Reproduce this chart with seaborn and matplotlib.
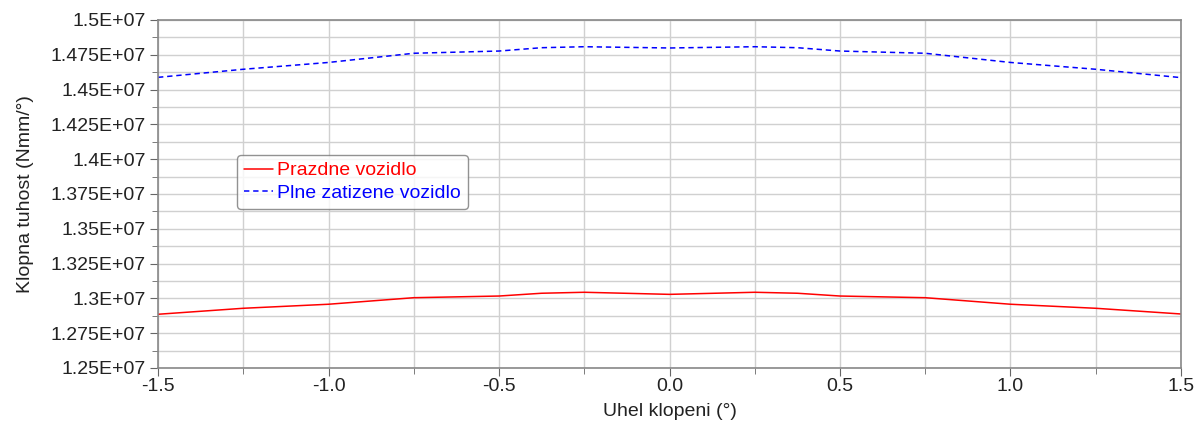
import matplotlib
matplotlib.use("Agg")
import matplotlib.pyplot as plt
from matplotlib.ticker import MultipleLocator, FuncFormatter
import seaborn as sns
import pandas as pd

# roll angle (deg) and roll stiffness (Nmm/deg)
angle = [-1.5, -1.25, -1.0, -0.75, -0.5, -0.375, -0.25, 0.0,
         0.25, 0.375, 0.5, 0.75, 1.0, 1.25, 1.5]
empty = [1.2886e7, 1.2929e7, 1.2958e7, 1.3005e7, 1.3017e7, 1.3037e7, 1.3044e7, 1.3029e7,
         1.3044e7, 1.3037e7, 1.3017e7, 1.3005e7, 1.2958e7, 1.2929e7, 1.2888e7]
loaded = [1.4588e7, 1.4646e7, 1.4695e7, 1.4761e7, 1.4777e7, 1.4801e7, 1.4808e7, 1.4799e7,
          1.4808e7, 1.4801e7, 1.4777e7, 1.4761e7, 1.4695e7, 1.4646e7, 1.4586e7]
labels = ["Prazdne vozidlo", "Plne zatizene vozidlo"]
colors = ["#ff0000", "#0000ff"]

df = pd.DataFrame({
    "angle": angle * 2,
    "value": empty + loaded,
    "series": [labels[0]] * len(angle) + [labels[1]] * len(angle),
})

sns.set_style("white")
plt.rcParams["font.family"] = ["Liberation Sans", "DejaVu Sans"]
fs = 14

fig = plt.figure(figsize=(11.98, 4.21), dpi=100)
ax = fig.add_axes([0.1319, 0.1259, 0.8539, 0.8266])

sns.lineplot(data=df, x="angle", y="value", hue="series",
             palette=colors, linewidth=1.1, ax=ax, legend=False)
ax.lines[0].set_linestyle("-")
ax.lines[1].set_dashes((3.5, 2.5))

ax.set_xlim(-1.5, 1.5)
ax.set_ylim(1.25e7, 1.5e7)
ax.xaxis.set_major_locator(MultipleLocator(0.5))
ax.xaxis.set_minor_locator(MultipleLocator(0.25))
ax.yaxis.set_major_locator(MultipleLocator(250000))
ax.yaxis.set_minor_locator(MultipleLocator(125000))
ax.xaxis.set_major_formatter(FuncFormatter(lambda v, p: f"{v:.1f}"))


def sci(v, p):
    s = f"{v / 1e7:.3f}".rstrip("0").rstrip(".")
    return f"{s}E+07"


ax.yaxis.set_major_formatter(FuncFormatter(sci))
ax.grid(True, which="both", color="#d0d0d0", linewidth=1)
ax.set_axisbelow(True)
for s in ax.spines.values():
    s.set_color("#888888")
    s.set_linewidth(1.2)
ax.tick_params(which="both", direction="out", color="#666666",
               left=True, bottom=True, labelsize=fs, colors="#222222")
ax.tick_params(which="major", length=6)
ax.tick_params(which="minor", length=4)
ax.tick_params(axis="x", pad=1)
ax.tick_params(axis="y", pad=3)
ax.set_xlabel("Uhel klopeni (°)", fontsize=fs, color="#222222", labelpad=6)
ax.set_ylabel("Klopna tuhost (Nmm/°)", fontsize=fs, color="#222222", labelpad=12)

leg = ax.legend(ax.lines[:2], labels, loc="upper left",
                bbox_to_anchor=(0.068, 0.64), fontsize=fs, frameon=True,
                fancybox=True, edgecolor="#777777", handlelength=1.5,
                handletextpad=0.2, borderpad=0.35, labelspacing=0.25)
for t, c in zip(leg.get_texts(), colors):
    t.set_color(c)
leg.get_frame().set_linewidth(1.0)

fig.savefig("out.png", dpi=100)
